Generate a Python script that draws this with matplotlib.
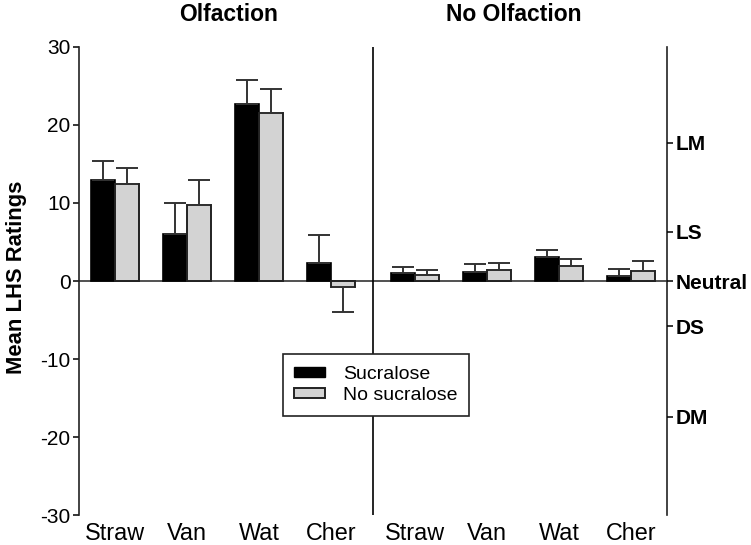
import numpy as np
import matplotlib

matplotlib.use("Agg")

import matplotlib.pyplot as plt
from matplotlib.patches import Patch

plt.rcParams["font.family"] = ["Liberation Sans", "DejaVu Sans"]
plt.rcParams["axes.unicode_minus"] = False

# values
categories = ["Straw", "Van", "Wat", "Cher"]
panels = ["Olfaction", "No Olfaction"]

olf_sucralose = [12.9, 6.0, 22.7, 2.35]
olf_sucralose_err = [2.5, 4.0, 3.1, 3.5]
olf_no_sucralose = [12.4, 9.7, 21.5, -0.75]
olf_no_sucralose_err = [2.1, 3.2, 3.1, 3.25]

noolf_sucralose = [1.0, 1.2, 3.1, 0.6]
noolf_sucralose_err = [0.8, 1.0, 0.9, 0.95]
noolf_no_sucralose = [0.75, 1.45, 1.95, 1.3]
noolf_no_sucralose_err = [0.65, 0.8, 0.85, 1.3]

lhs_labels = ["LM", "LS", "Neutral", "DS", "DM"]
lhs_values = [17.7, 6.3, 0.0, -5.8, -17.4]

BLACK = "#000000"
GRAY = "#d3d3d3"
EDGE = "#222222"
WIDTH = 0.33


def one_sided(values, errs):
    values = np.asarray(values)
    errs = np.asarray(errs)
    lower = np.where(values < 0, errs, 0)
    upper = np.where(values >= 0, errs, 0)
    return [lower, upper]


def draw_pair(ax, centers, suc, suc_err, nosuc, nosuc_err):
    err_kw = dict(ecolor="#333333", elinewidth=1.4, capsize=8, capthick=1.4)
    ax.bar(centers - WIDTH / 2, suc, WIDTH, color=BLACK, edgecolor=BLACK,
           linewidth=1.2, yerr=one_sided(suc, suc_err), error_kw=err_kw, zorder=3)
    ax.bar(centers + WIDTH / 2, nosuc, WIDTH, color=GRAY, edgecolor=EDGE,
           linewidth=1.4, yerr=one_sided(nosuc, nosuc_err), error_kw=err_kw, zorder=3)


fig = plt.figure(figsize=(7.51, 5.45), dpi=100)
ax = fig.add_axes([0.1052, 0.055, 0.7830, 0.8588])

left_centers = np.arange(len(categories)) + 0.5
right_centers = np.arange(len(categories)) + 4.67
divider = 4.085

draw_pair(ax, left_centers, olf_sucralose, olf_sucralose_err,
          olf_no_sucralose, olf_no_sucralose_err)
draw_pair(ax, right_centers, noolf_sucralose, noolf_sucralose_err,
          noolf_no_sucralose, noolf_no_sucralose_err)

ax.set_xlim(0, 8.17)
ax.set_ylim(-30, 30)
ax.axhline(0, color="#333333", linewidth=1.2, zorder=2)
ax.axvline(divider, color="black", linewidth=1.2, zorder=2)

for side in ("top", "bottom"):
    ax.spines[side].set_visible(False)
for side in ("left", "right"):
    ax.spines[side].set_linewidth(1.2)
    ax.spines[side].set_color("#222222")

ax.set_yticks(np.arange(-30, 31, 10))
ax.tick_params(axis="y", direction="out", length=4, width=1.1, labelsize=15, pad=2)
ax.set_xticks(np.concatenate([left_centers, right_centers]))
ax.set_xticklabels(categories + categories, fontsize=16.8)
ax.tick_params(axis="x", length=0, pad=5)
ax.set_ylabel("Mean LHS Ratings", fontsize=15.8, fontweight="bold")
ax.yaxis.set_label_coords(-0.088, 0.508)

ax2 = ax.twinx()
ax2.set_ylim(-30, 30)
ax2.set_yticks(lhs_values)
ax2.set_yticklabels(lhs_labels, fontsize=15, fontweight="bold")
ax2.tick_params(axis="y", direction="out", length=4, width=1.1, pad=2)
for side in ("top", "bottom", "left", "right"):
    ax2.spines[side].set_visible(False)

ax.text(0.255, 1.069, panels[0], transform=ax.transAxes, ha="center", va="center",
        fontsize=16.5, fontweight="bold")
ax.text(0.739, 1.069, panels[1], transform=ax.transAxes, ha="center", va="center",
        fontsize=16.5, fontweight="bold")

handles = [
    Patch(facecolor=BLACK, edgecolor=BLACK, label="Sucralose"),
    Patch(facecolor=GRAY, edgecolor=EDGE, linewidth=1.4, label="No sucralose"),
]
leg = ax.legend(handles=handles, loc="center", bbox_to_anchor=(0.505, 0.278),
                fontsize=14, frameon=True, fancybox=False, edgecolor="#222222",
                handlelength=1.55, handleheight=0.45, handletextpad=0.95,
                borderpad=0.6, borderaxespad=0, labelspacing=0.22, framealpha=1)
leg.get_frame().set_linewidth(1.2)
leg.set_zorder(5)

fig.savefig("out.png", dpi=100)
